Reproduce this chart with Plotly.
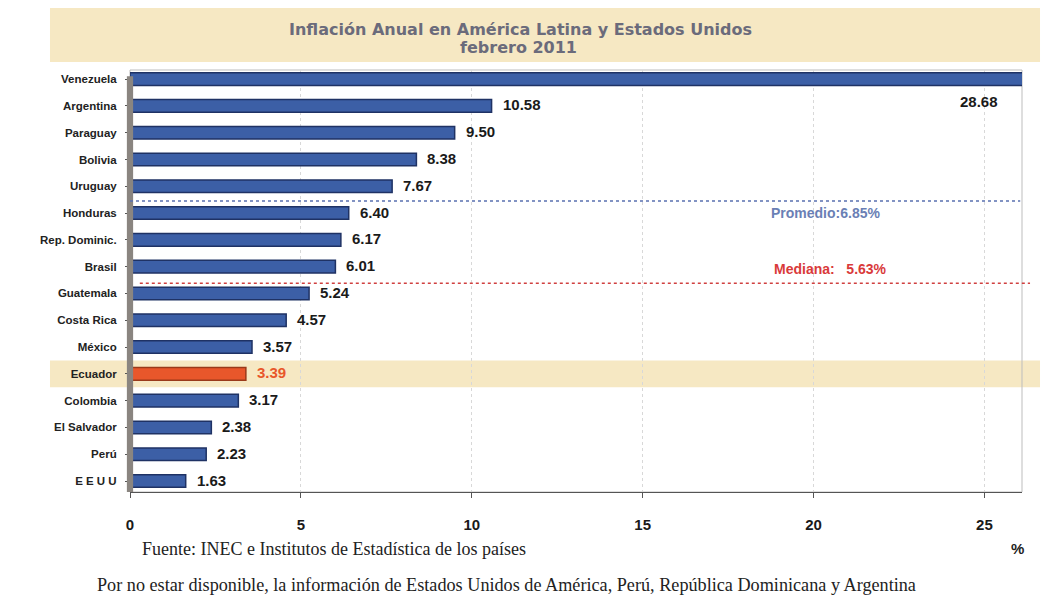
import plotly.graph_objects as go

countries = ["Venezuela", "Argentina", "Paraguay", "Bolivia", "Uruguay", "Honduras",
             "Rep. Dominic.", "Brasil", "Guatemala", "Costa Rica", "México", "Ecuador",
             "Colombia", "El Salvador", "Perú", "E E U U"]
values = [28.68, 10.58, 9.50, 8.38, 7.67, 6.40, 6.17, 6.01, 5.24, 4.57, 3.57, 3.39,
          3.17, 2.38, 2.23, 1.63]
highlight = "Ecuador"
promedio = 6.85
mediana = 5.63
x_ticks = [0, 5, 10, 15, 20, 25]
x_max = 26.1

BLUE = "#3C5FA6"
EDGE = "#1F3264"
ORANGE = "#E8572B"
BEIGE = "#F6E8C3"
SANS = "Liberation Sans, Arial"
SERIF = "Liberation Serif, Times New Roman"

colors = [ORANGE if c == highlight else BLUE for c in countries]
edges = ["#9A3A1A" if c == highlight else EDGE for c in countries]

fig = go.Figure()
fig.add_trace(go.Bar(
    x=values, y=list(range(len(countries))), orientation="h",
    marker=dict(color=colors, line=dict(color=edges, width=1.5)),
    hovertext=countries, hoverinfo="x+text",
))

# value labels
for i, (c, v) in enumerate(zip(countries, values)):
    if v > x_max:
        fig.add_annotation(x=x_max, y=i, text=f"<b>{v:.2f}</b>", showarrow=False,
                           xanchor="right", yshift=-22, xshift=-22,
                           font=dict(family=SANS, size=15, color="#1a1a1a"))
    else:
        fig.add_annotation(x=v, y=i, text=f"<b>{v:.2f}</b>", showarrow=False,
                           xanchor="left", xshift=9, yshift=1,
                           font=dict(family=SANS, size=15,
                                     color=ORANGE if c == highlight else "#1a1a1a"))

idx = {c: i for i, c in enumerate(countries)}
mean_pos = idx["Uruguay"] + 0.55
med_pos = idx["Brasil"] + 0.62

shapes = [
    # title band
    dict(type="rect", xref="paper", yref="paper", x0=-0.0897, x1=1.0202, y0=1.019, y1=1.147,
         fillcolor=BEIGE, line=dict(width=0), layer="below"),
    # highlight band for Ecuador
    dict(type="rect", xref="paper", yref="y", x0=-0.0897, x1=1.0202,
         y0=idx[highlight] - 0.5, y1=idx[highlight] + 0.5,
         fillcolor=BEIGE, line=dict(width=0), layer="below"),
    # left wall
    dict(type="rect", xref="paper", yref="paper", x0=-0.0035, x1=0.0035, y0=0, y1=0.985,
         fillcolor="#8a8580", line=dict(width=0), layer="above"),
    # mean line
    dict(type="line", xref="paper", yref="y", x0=0.0, x1=0.998, y0=mean_pos, y1=mean_pos,
         line=dict(color="#5A70B0", width=1.5, dash="dot")),
    # median line
    dict(type="line", xref="paper", yref="y", x0=0.011, x1=1.009, y0=med_pos, y1=med_pos,
         line=dict(color="#D04040", width=1.5, dash="dot")),
]

annotations_extra = [
    dict(x=0.78, y=mean_pos, xref="paper", yref="y", yshift=-12,
         text=f"<b>Promedio:{promedio:.2f}%</b>", showarrow=False, xanchor="center",
         font=dict(family=SANS, size=14, color="#6A7FB5")),
    dict(x=0.785, y=med_pos, xref="paper", yref="y", yshift=14,
         text=f"<b>Mediana:&nbsp;&nbsp;&nbsp;{mediana:.2f}%</b>", showarrow=False,
         xanchor="center",
         font=dict(family=SANS, size=14, color="#D93A3A")),
    dict(x=0.438, y=1.0948, xref="paper", yref="paper",
         text="<b>Inflación Anual en América Latina y Estados Unidos</b>",
         showarrow=False, xanchor="center", yanchor="middle",
         font=dict(family="DejaVu Sans", size=16, color="#6B6B7B")),
    dict(x=0.435, y=1.0545, xref="paper", yref="paper",
         text="<b>febrero 2011</b>",
         showarrow=False, xanchor="center", yanchor="middle",
         font=dict(family="DejaVu Sans", size=16, color="#6B6B7B")),
    dict(x=0.011, y=-0.135, xref="paper", yref="paper", xanchor="left", yanchor="middle",
         text="Fuente: INEC e Institutos de Estadística de los países", showarrow=False,
         font=dict(family=SERIF, size=18, color="#222")),
    dict(x=0.9955, y=-0.133, xref="paper", yref="paper", xanchor="center", yanchor="middle",
         text="<b>%</b>", showarrow=False,
         font=dict(family=SANS, size=15, color="#222")),
    dict(x=-0.039, y=-0.22, xref="paper", yref="paper", xanchor="left", yanchor="middle",
         text="Por no estar disponible, la información de Estados Unidos de América, Perú, República Dominicana y Argentina",
         showarrow=False,
         font=dict(family=SERIF, size=18.2, color="#222")),
]
for a in annotations_extra:
    fig.add_annotation(**a)

fig.update_layout(
    width=1062, height=597,
    margin=dict(l=122, r=48, t=62, b=113),
    paper_bgcolor="white", plot_bgcolor="white",
    showlegend=False, bargap=0.53,
    shapes=shapes,
    xaxis=dict(range=[0, x_max], tickvals=x_ticks, ticktext=[f"<b>{t}</b>" for t in x_ticks],
               showgrid=True, gridcolor="#D8D8D8", griddash="dot", gridwidth=1,
               zeroline=False, showline=True, linecolor="#555", linewidth=1,
               mirror=False, ticks="outside", ticklen=5, tickcolor="#555",
               tickfont=dict(family=SANS, size=15, color="#1a1a1a"),
               ticklabelstandoff=14),
    yaxis=dict(range=[15.41, -0.34],
               showgrid=False, zeroline=False, showline=False, ticks="outside", ticklen=4,
               tickcolor="#555",
               tickvals=list(range(len(countries))),
               ticktext=[f"<b>{c}</b>" for c in countries],
               tickfont=dict(family=SANS, size=11.5, color="#222"),
               ticklabelstandoff=6),
)
# plot border
fig.add_shape(type="rect", xref="paper", yref="paper", x0=0, x1=1, y0=0, y1=1,
              line=dict(color="#BDBDBD", width=1), layer="below")

fig.write_html("out.html")
